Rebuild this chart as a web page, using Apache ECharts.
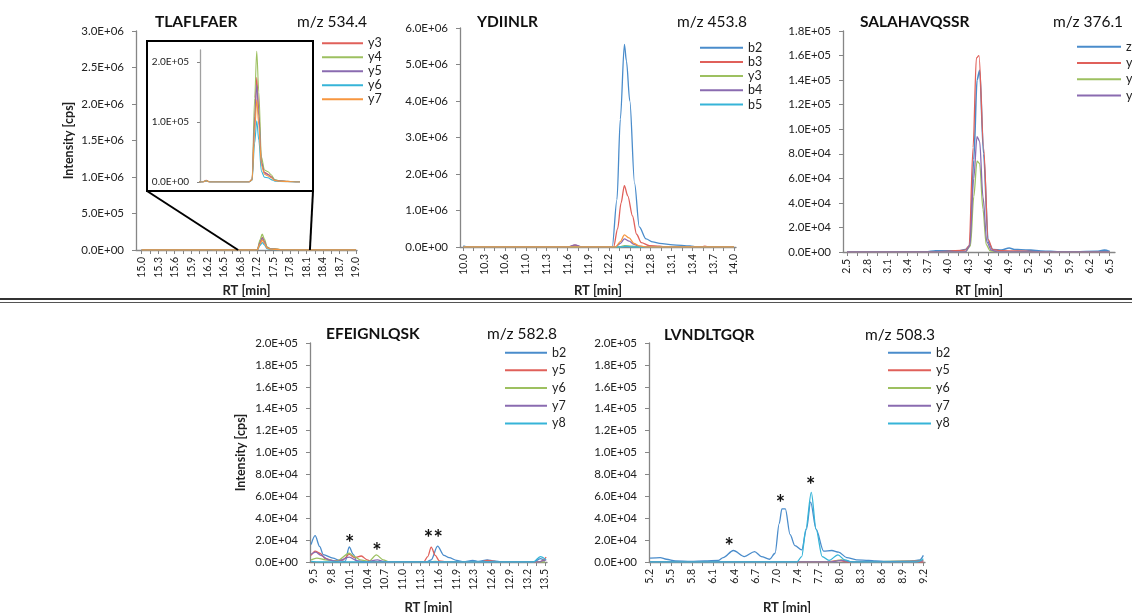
<!DOCTYPE html>
<html><head><meta charset="utf-8">
<script src="https://cdn.jsdelivr.net/npm/echarts@6/dist/echarts.min.js"></script>
<style>html,body{margin:0;padding:0;background:#fff}#c{width:1132px;height:613px}</style>
</head><body><div id="c"></div>
<script>
// ---------- tick labels (category labels as shown on the x axes) ----------
const tlTicks = ['15.0','15.3','15.6','15.9','16.2','16.5','16.8','17.2','17.5','17.8','18.1','18.4','18.7','19.0'];
const ydTicks = ['10.0','10.3','10.6','11.0','11.3','11.6','11.9','12.2','12.5','12.8','13.1','13.4','13.7','14.0'];
const saTicks = ['2.5','2.8','3.1','3.4','3.7','4.0','4.3','4.6','4.9','5.2','5.6','5.9','6.2','6.5'];
const efTicks = ['9.5','9.8','10.1','10.4','10.7','11.0','11.3','11.6','11.9','12.3','12.6','12.9','13.2','13.5'];
const lvTicks = ['5.2','5.5','5.8','6.1','6.4','6.7','7.0','7.4','7.7','8.0','8.3','8.6','8.9','9.2'];

// ---------- TLAFLFAER (m/z 534.4) ----------
const tlRT = [15.0, 16.2, 16.27, 16.34, 17.1, 17.16, 17.21, 17.25, 17.29, 17.34, 17.4, 17.47, 17.53, 17.6, 17.7, 17.85, 18.05, 19.0];
const tlY3 = [0, 0, 3000, 0, 0, 4000, 110000, 174000, 120000, 35000, 16000, 13000, 9000, 3000, 2000, 1000, 0, 0];
const tlY4 = [0, 0, 2500, 0, 0, 5000, 140000, 218000, 150000, 42000, 20000, 17000, 12000, 4000, 2000, 1000, 0, 0];
const tlY5 = [0, 0, 2000, 0, 0, 4000, 100000, 162000, 110000, 32000, 15000, 12000, 8000, 3000, 1500, 800, 0, 0];
const tlY6 = [0, 0, 1500, 0, 0, 3000, 65000, 102000, 70000, 18000, 8000, 7000, 4000, 1500, 800, 400, 0, 0];
const tlY7 = [0, 0, 2000, 0, 0, 3500, 85000, 137000, 95000, 28000, 13000, 10000, 7000, 2500, 1200, 600, 0, 0];
const tlZoomRange = [16.8, 18.14];

// ---------- YDIINLR (m/z 453.8) ----------
const ydB2 = [[10.0,30000],[10.06,0],[11.55,0],[11.65,20000],[11.75,0],[12.2,0],[12.27,1300000],[12.32,3500000],[12.38,5550000],[12.41,5100000],[12.46,4000000],[12.53,1750000],[12.6,550000],[12.7,220000],[12.8,140000],[12.9,100000],[13.1,60000],[13.35,30000],[13.45,0],[14.0,0]];
const ydB3 = [[10.0,0],[11.55,0],[11.65,50000],[11.75,0],[12.22,0],[12.28,500000],[12.33,1200000],[12.38,1680000],[12.43,1400000],[12.5,850000],[12.56,350000],[12.63,120000],[12.75,40000],[12.9,20000],[13.0,0],[13.5,0],[13.57,20000],[13.63,0],[14.0,0]];
const ydY3 = [[10.0,0],[12.3,0],[12.38,40000],[12.5,20000],[12.6,0],[14.0,0]];
const ydB4 = [[10.0,0],[11.55,0],[11.65,60000],[11.75,0],[12.25,0],[12.32,100000],[12.38,220000],[12.45,160000],[12.52,70000],[12.6,20000],[12.7,0],[14.0,0]];
const ydB5 = [[10.0,0],[12.35,0],[12.4,20000],[12.5,0],[14.0,0]];
const ydExtra = [[10.0,0],[12.25,0],[12.32,150000],[12.38,330000],[12.45,250000],[12.52,100000],[12.6,30000],[12.7,0],[14.0,0]];

// ---------- SALAHAVQSSR (m/z 376.1) ----------
const saZ3 = [[2.5,0],[3.7,0],[3.85,1000],[4.2,1000],[4.3,2000],[4.37,5000],[4.43,75000],[4.48,140000],[4.52,148000],[4.58,80000],[4.65,8000],[4.72,2000],[4.85,1500],[4.97,3200],[5.05,2000],[5.15,1800],[5.3,1500],[5.45,800],[5.6,500],[5.8,0],[6.3,500],[6.42,1500],[6.5,500]];
const saY4 = [[2.5,0],[3.8,0],[4.0,500],[4.3,1500],[4.36,5000],[4.42,85000],[4.47,158000],[4.51,160000],[4.58,85000],[4.65,10000],[4.72,2000],[4.85,1000],[5.1,800],[5.5,0],[6.5,0]];
const saY5 = [[2.5,0],[4.3,0],[4.38,5000],[4.43,45000],[4.48,74000],[4.52,72000],[4.57,35000],[4.62,6000],[4.68,1000],[4.8,0],[6.5,0]];
const saY6 = [[2.5,0],[4.3,0],[4.37,5000],[4.43,60000],[4.48,94000],[4.52,90000],[4.57,45000],[4.63,8000],[4.7,1500],[4.8,0],[6.5,0]];

// ---------- EFEIGNLQSK (m/z 582.8) ----------
const efB2 = [[9.45,16000],[9.52,24000],[9.6,14000],[9.66,6700],[9.83,3600],[9.94,1500],[10.04,500],[10.11,13700],[10.18,7000],[10.24,1000],[10.35,0],[11.45,0],[11.53,2000],[11.64,14500],[11.75,6000],[11.84,4000],[11.97,1500],[12.09,0],[12.25,1500],[12.35,500],[12.5,2000],[12.62,1000],[12.75,0],[13.3,0],[13.42,3000],[13.5,1000]];
const efY5 = [[9.45,6000],[9.52,10000],[9.6,8000],[9.7,3000],[9.85,1000],[10.0,2000],[10.11,7000],[10.2,4000],[10.32,5500],[10.42,2000],[10.5,0],[11.4,0],[11.47,5000],[11.53,13500],[11.6,6000],[11.67,1000],[11.8,0],[12.4,0],[12.5,1500],[12.7,0],[13.4,0],[13.45,1000],[13.52,4500]];
const efY6 = [[9.45,2000],[9.55,3500],[9.7,2000],[9.9,1000],[10.11,8000],[10.2,5000],[10.3,2000],[10.45,500],[10.58,6500],[10.7,2000],[10.8,0],[11.5,0],[11.6,500],[11.7,0],[13.5,0]];
const efY7 = [[9.45,7000],[9.53,9000],[9.62,6000],[9.75,2000],[9.9,500],[10.11,4500],[10.25,1000],[10.4,0],[10.6,2000],[10.7,500],[10.8,0],[13.4,0],[13.45,1000],[13.52,2000]];
const efY8 = [[9.45,500],[9.6,0],[13.3,0],[13.42,5000],[13.52,2000]];
const efStars = [[10.12,20400],[10.59,12800],[11.48,25000],[11.65,25000]];

// ---------- LVNDLTGQR (m/z 508.3) ----------
const lvB2 = [[5.2,3500],[5.35,4000],[5.44,2500],[5.57,1000],[5.8,500],[6.0,1000],[6.2,1500],[6.27,4000],[6.42,10500],[6.58,5000],[6.73,9500],[6.83,5000],[6.95,2500],[7.03,8000],[7.09,35000],[7.13,48500],[7.18,48500],[7.25,25000],[7.32,15000],[7.42,11000],[7.49,30000],[7.55,55000],[7.63,30000],[7.74,10000],[7.86,10500],[7.96,9000],[8.08,4000],[8.22,2000],[8.4,1500],[8.5,1000],[8.65,500],[9.0,500],[9.15,2000],[9.2,6000]];
const lvY5 = [[5.2,0],[7.8,0],[7.95,1500],[8.1,0],[9.2,0]];
const lvY6 = [[5.2,0],[7.85,0],[8.0,2000],[8.15,0],[9.2,1500]];
const lvY7 = [[5.2,0],[7.85,0],[8.0,1500],[8.15,0],[9.2,1000]];
const lvY8 = [[5.2,0],[7.35,0],[7.42,5000],[7.48,30000],[7.56,63500],[7.63,30000],[7.72,5000],[7.82,1500],[7.95,6500],[8.05,2000],[8.15,0],[9.1,0],[9.2,3000]];
const lvStars = [[6.36,17400],[7.11,56300],[7.55,73600]];

// ---------- styling ----------
const C = {blue:'#4A8CCB', red:'#E0605A', green:'#9DC060', purple:'#8A6BB0', cyan:'#36B4D8', orange:'#F7963F'};
const FF = "Lato, 'Liberation Sans', sans-serif";
const NF = "'Liberation Sans Narrow', Lato, sans-serif";
const AX = '#868686', TXT = '#222';

function zip(xs, ys) { return xs.map((x, i) => [x, ys[i]]); }
function sci(v) {
  if (Math.abs(v) < 1e-9) return '0.0E+00';
  let e = Math.floor(Math.log10(v) + 1e-9), m = v / Math.pow(10, e);
  if (m >= 9.95) { m /= 10; e++; }
  return m.toFixed(1) + 'E+' + (e < 10 ? '0' + e : '' + e);
}
function xAx(gi, ticks, min, max, nameGap) {
  const a = parseFloat(ticks[0]), b = parseFloat(ticks[ticks.length - 1]);
  const step = (b - a) / (ticks.length - 1);
  const pos = ticks.map((t, i) => a + i * step);
  const tpos = [];
  for (let i = 0; i <= 2 * (ticks.length - 1); i++) tpos.push(a + i * step / 2);
  return {
    type: 'value', gridIndex: gi, min, max,
    axisLine: {show: true, lineStyle: {color: AX, width: 1.3}},
    axisTick: {show: true, customValues: tpos, length: 4, lineStyle: {color: AX}},
    axisLabel: {customValues: pos, rotate: 90, margin: 7, fontSize: 10.5, color: TXT, fontFamily: NF,
      formatter: v => ticks[Math.round((v - a) / step)]},
    splitLine: {show: false},
    name: 'RT [min]', nameLocation: 'middle', nameGap,
    nameTextStyle: {fontWeight: 'bold', fontSize: 13, color: TXT, fontFamily: FF}
  };
}
function yAx(gi, max, interval, extra) {
  return Object.assign({
    type: 'value', gridIndex: gi, min: 0, max, interval,
    axisLine: {show: true, lineStyle: {color: AX, width: 1.3}},
    axisTick: {show: true, inside: false, length: 4, lineStyle: {color: AX}},
    axisLabel: {formatter: sci, fontSize: 11.5, color: TXT, margin: 12, fontFamily: FF},
    splitLine: {show: false}
  }, extra || {});
}
function S(name, data, color, ai, extra) {
  return Object.assign({
    type: 'line', name, data, xAxisIndex: ai, yAxisIndex: ai,
    showSymbol: false, symbol: 'none', smooth: 0.3, smoothMonotone: 'x', silent: true,
    lineStyle: {color, width: 1.3}, itemStyle: {color}, color, animation: false, z: 3
  }, extra || {});
}
function stars(list) {
  return {
    symbol: 'circle', symbolSize: 0, silent: true, animation: false,
    label: {show: true, position: 'inside', formatter: '*', fontSize: 22, fontWeight: 'bold', color: '#111', fontFamily: FF, offset: [0, 4]},
    data: list.map(p => ({coord: p}))
  };
}
function leg(names, left, top, lh, w) {
  return {
    orient: 'vertical', left, top, padding: 0, itemGap: 0, itemWidth: w, itemHeight: 2,
    icon: 'rect', selectedMode: false, data: names, formatter: n => n.split('|')[1],
    textStyle: {fontSize: 12.5, color: TXT, fontFamily: FF, lineHeight: lh}
  };
}

const grids = [
  {left: 136, top: 31, width: 221, height: 219},
  {left: 200, top: 50, width: 98, height: 132},
  {left: 460, top: 28, width: 276, height: 219},
  {left: 843, top: 31, width: 272, height: 221},
  {left: 310, top: 343, width: 237, height: 219},
  {left: 649, top: 343, width: 276, height: 219}
].map(g => Object.assign({containLabel: false, outerBoundsMode: 'none', show: false}, g));

const xAxes = [
  xAx(0, tlTicks, 14.894, 19.019, 34),
  {type: 'value', gridIndex: 1, min: 16.15, max: 18.05, show: false},
  xAx(2, ydTicks, 9.951, 14.029, 37),
  xAx(3, saTicks, 2.439, 6.581, 32),
  xAx(4, efTicks, 9.431, 13.535, 39),
  xAx(5, lvTicks, 5.185, 9.224, 39)
];
const yName = {name: 'Intensity [cps]', nameLocation: 'middle', nameRotate: 90,
  nameTextStyle: {fontWeight: 'bold', fontSize: 12.5, color: TXT, fontFamily: FF}};
const yAxes = [
  yAx(0, 3e6, 5e5, Object.assign({nameGap: 61}, yName)),
  yAx(1, 2.2e5, 1e5, {
    axisTick: {show: true, length: 3, customValues: [0, 1e5, 2e5], lineStyle: {color: AX}},
    axisLabel: {customValues: [0, 1e5, 2e5], formatter: sci, fontSize: 10, color: TXT, margin: 11, fontFamily: FF},
    axisLine: {show: true, lineStyle: {color: '#A0A0A0', width: 1.3}}
  }),
  yAx(2, 6e6, 1e6),
  yAx(3, 1.8e5, 2e4),
  yAx(4, 2e5, 2e4, Object.assign({nameGap: 63}, yName)),
  yAx(5, 2e5, 2e4)
];

const series = [
  S('TL|y3', zip(tlRT, tlY3), C.red, 0), S('TL|y4', zip(tlRT, tlY4), C.green, 0),
  S('TL|y5', zip(tlRT, tlY5), C.purple, 0), S('TL|y6', zip(tlRT, tlY6), C.cyan, 0),
  S('TL|y7', zip(tlRT, tlY7), C.orange, 0),
  S('TLi|y3', zip(tlRT, tlY3), C.red, 1, {lineStyle: {color: C.red, width: 1.1}}),
  S('TLi|y4', zip(tlRT, tlY4), C.green, 1, {lineStyle: {color: C.green, width: 1.1}}),
  S('TLi|y5', zip(tlRT, tlY5), C.purple, 1, {lineStyle: {color: C.purple, width: 1.1}}),
  S('TLi|y6', zip(tlRT, tlY6), C.cyan, 1, {lineStyle: {color: C.cyan, width: 1.1}}),
  S('TLi|y7', zip(tlRT, tlY7), C.orange, 1, {lineStyle: {color: C.orange, width: 1.1}}),
  S('YD|b2', ydB2, C.blue, 2), S('YD|b3', ydB3, C.red, 2), S('YD|y3', ydY3, C.green, 2),
  S('YD|b4', ydB4, C.purple, 2), S('YD|b5', ydB5, C.cyan, 2), S('YD|x', ydExtra, C.orange, 2),
  S('SA|z3', saZ3, C.blue, 3, {lineStyle: {color: C.blue, width: 1.6}}), S('SA|y4', saY4, C.red, 3),
  S('SA|y5', saY5, C.green, 3), S('SA|y6', saY6, C.purple, 3),
  S('EF|b2', efB2, C.blue, 4, {markPoint: stars(efStars)}), S('EF|y5', efY5, C.red, 4),
  S('EF|y6', efY6, C.green, 4), S('EF|y7', efY7, C.purple, 4), S('EF|y8', efY8, C.cyan, 4),
  S('LV|b2', lvB2, C.blue, 5, {markPoint: stars(lvStars)}), S('LV|y5', lvY5, C.red, 5),
  S('LV|y6', lvY6, C.green, 5), S('LV|y7', lvY7, C.purple, 5), S('LV|y8', lvY8, C.cyan, 5)
];

const legends = [
  leg(['TL|y3','TL|y4','TL|y5','TL|y6','TL|y7'], 322, 36.3, 14, 41),
  leg(['YD|b2','YD|b3','YD|y3','YD|b4','YD|b5'], 700, 40.6, 14.2, 43),
  leg(['SA|z3','SA|y4','SA|y5','SA|y6'], 1077, 38.5, 16.3, 44),
  leg(['EF|b2','EF|y5','EF|y6','EF|y7','EF|y8'], 505, 343.8, 17.7, 42),
  leg(['LV|b2','LV|y5','LV|y6','LV|y7','LV|y8'], 888, 343.8, 17.7, 43)
];

const titles = [
  ['TLAFLFAER', 155, 21.5, true], ['m/z 534.4', 297, 22, false],
  ['YDIINLR', 477, 22, true], ['m/z 453.8', 677, 22, false],
  ['SALAHAVQSSR', 860, 22, true], ['m/z 376.1', 1053, 22, false],
  ['EFEIGNLQSK', 326, 333.5, true], ['m/z 582.8', 487, 334, false],
  ['LVNDLTGQR', 664, 334.5, true], ['m/z 508.3', 865, 335, false]
];

const chart = echarts.init(document.getElementById('c'), null, {renderer: 'canvas'});
chart.setOption({
  animation: false, backgroundColor: '#fff',
  textStyle: {fontFamily: FF},
  grid: grids, xAxis: xAxes, yAxis: yAxes, legend: legends, series
});

const p1 = chart.convertToPixel({gridIndex: 0}, [tlZoomRange[0], 0]);
const p2 = chart.convertToPixel({gridIndex: 0}, [tlZoomRange[1], 0]);
const box = {x: 147, y: 41, w: 166, h: 150};
const graphic = [
  {type: 'rect', z: -10, shape: {x: box.x, y: box.y, width: box.w, height: box.h}, style: {fill: '#fff', stroke: '#000', lineWidth: 2}},
  {type: 'line', z: 5, shape: {x1: box.x, y1: box.y + box.h, x2: p1[0], y2: p1[1]}, style: {stroke: '#000', lineWidth: 2}},
  {type: 'line', z: 5, shape: {x1: box.x + box.w, y1: box.y + box.h, x2: p2[0], y2: p2[1]}, style: {stroke: '#000', lineWidth: 2}},
  {type: 'line', shape: {x1: 0, y1: 299, x2: 1132, y2: 299}, style: {stroke: '#333', lineWidth: 2}},
  {type: 'line', shape: {x1: 0, y1: 302.5, x2: 1132, y2: 302.5}, style: {stroke: '#555', lineWidth: 1}}
].concat(titles.map(t => ({
  type: 'text', x: t[1], y: t[2],
  style: {text: t[0], fontSize: 15.5, fontWeight: t[3] ? 'bold' : 'normal', fontFamily: FF, fill: '#111', verticalAlign: 'middle', align: 'left'}
})));
chart.setOption({graphic});
</script></body></html>
